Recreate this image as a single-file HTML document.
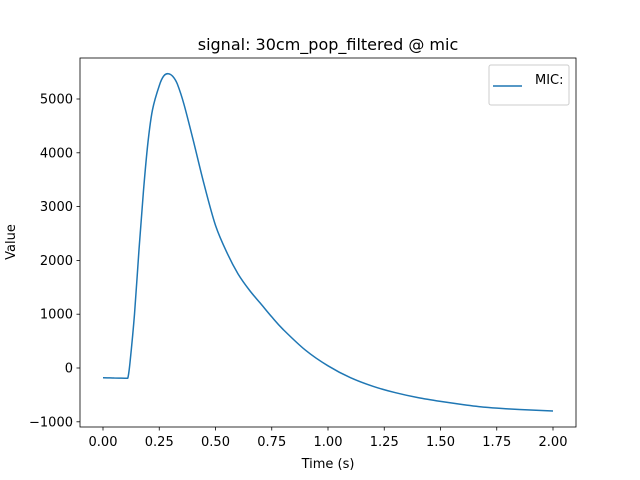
<!DOCTYPE html>
<html><head><meta charset="utf-8"><style>body{margin:0;background:#fff}svg{display:block;font-family:"DejaVu Sans","Liberation Sans",sans-serif}</style></head>
<body>
<svg id="chart" width="640" height="480">
<rect width="640" height="480" fill="#fff"/>
<text x="328" y="50" font-size="16" text-anchor="middle">signal: 30cm_pop_filtered @ mic</text>
<g id="ticks"></g>
<path id="line" fill="none" stroke="#1f77b4" stroke-width="1.5" stroke-linejoin="round"/>
<rect x="80" y="58" width="496" height="369" fill="none" stroke="#000" stroke-width="0.8"/>
<text x="328" y="468" font-size="13" text-anchor="middle">Time (s)</text>
<text x="15" y="242" font-size="13" text-anchor="middle" transform="rotate(-90 15 242)">Value</text>
<g>
<rect x="489" y="65" width="80" height="40" rx="2" fill="#fff" stroke="#ccc" stroke-width="1"/>
<line x1="493" y1="86" x2="522" y2="86" stroke="#1f77b4" stroke-width="1.5"/>
<text x="535" y="84" font-size="13">MIC:</text>
</g>
</svg>
<script>
const times=[0,0.05,0.1,0.11,0.12,0.14,0.16,0.18,0.2,0.22,0.25,0.27,0.29,0.31,0.33,0.36,0.4,0.45,0.5,0.55,0.6,0.65,0.7,0.75,0.8,0.9,1.0,1.1,1.2,1.3,1.4,1.5,1.6,1.7,1.8,1.9,2.0];
const values=[-180,-185,-190,-190,100,1000,2200,3300,4200,4800,5250,5430,5470,5420,5280,4900,4250,3400,2650,2150,1750,1450,1200,950,720,330,40,-180,-340,-460,-550,-620,-680,-730,-760,-780,-800];
const xTicks=[0,0.25,0.5,0.75,1.0,1.25,1.5,1.75,2.0];
const xTickLabels=["0.00","0.25","0.50","0.75","1.00","1.25","1.50","1.75","2.00"];
const yTicks=[-1000,0,1000,2000,3000,4000,5000];
function X(t){return 103+t*225;}
function Y(v){return 368-v*0.0538;}
const ns="http://www.w3.org/2000/svg";
const g=document.getElementById('ticks');
function el(tag,attrs){const e=document.createElementNS(ns,tag);for(const k in attrs)e.setAttribute(k,attrs[k]);g.appendChild(e);return e;}
xTicks.forEach((t,i)=>{
 const l=el('line',{x1:X(t),x2:X(t),y1:427,y2:430.5,stroke:'#000','stroke-width':0.8});
 
 
 const tx=el('text',{x:X(t),y:446,'font-size':13,'text-anchor':'middle'});tx.textContent=xTickLabels[i];
 
 
});
yTicks.forEach(v=>{
 const l=el('line',{x1:76.5,x2:80,y1:Y(v),y2:Y(v),stroke:'#000','stroke-width':0.8});
 
 
 const tx=el('text',{x:73,y:Y(v)+4.5,'font-size':13,'text-anchor':'end'});tx.textContent=String(v).replace('-','−');
 
 
});
// Catmull-Rom smoothing through data points
const P=times.map((t,i)=>[X(t),Y(values[i])]);
let d='M'+P[0][0].toFixed(1)+','+P[0][1].toFixed(1);
for(let i=0;i<P.length-1;i++){
 const p0=P[Math.max(0,i-1)],p1=P[i],p2=P[i+1],p3=P[Math.min(P.length-1,i+2)];
 if(i===2){d+='L'+p2[0].toFixed(1)+','+p2[1].toFixed(1);continue;}
 const c1=[p1[0]+(p2[0]-p0[0])/6,p1[1]+(p2[1]-p0[1])/6],c2=[p2[0]-(p3[0]-p1[0])/6,p2[1]-(p3[1]-p1[1])/6];
 d+='C'+c1.map(v=>v.toFixed(1))+' '+c2.map(v=>v.toFixed(1))+' '+p2.map(v=>v.toFixed(1));
}
document.getElementById('line').setAttribute('d',d);
</script>
</body></html>
